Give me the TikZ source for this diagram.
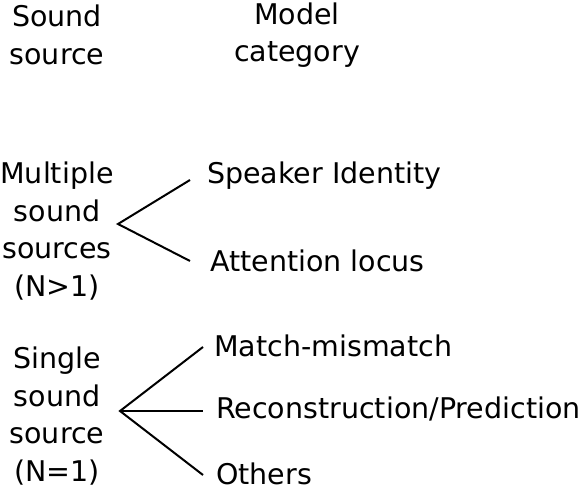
\documentclass[tikz,border=0pt]{standalone}
\usepackage{fontspec}
\setmainfont{DejaVu Sans}
\begin{document}
\begin{tikzpicture}[x=1pt,y=-1pt,
  txt/.style={inner sep=0pt,font=\fontsize{28.5}{37.5}\selectfont,align=center},
  lbl/.style={inner sep=0pt,font=\fontsize{28.5}{37.5}\selectfont,anchor=west},
  conn/.style={line width=2pt}]
\useasboundingbox (0,0) rectangle (588,486);
\node[txt] (hs) at (57,35) {Sound\\source};
\node[txt] (hm) at (297,35) {Model\\category};
\node[txt] (multi) at (57,231) {Multiple\\sound\\sources\\(N>1)};
\node[txt] (single) at (57,416) {Single\\sound\\source\\(N=1)};
\node[lbl] (spk) at (207,176) {Speaker Identity};
\node[lbl] (att) at (210,261) {Attention locus};
\node[lbl] (mm) at (214,346) {Match-mismatch};
\node[lbl] (rec) at (216,409) {Reconstruction/Prediction};
\node[lbl] (oth) at (216,474) {Others};
\coordinate (bm) at (118,224);
\coordinate (bs) at (120,411);
\coordinate (e1) at (190,180);
\coordinate (e2) at (190,261);
\coordinate (e3) at (203,347);
\coordinate (e4) at (203,411);
\coordinate (e5) at (203,475);
\draw[conn] (e1) -- (bm) -- (e2);
\draw[conn] (e3) -- (bs) -- (e5);
\draw[conn] (bs) -- (e4);
\end{tikzpicture}
\end{document}
